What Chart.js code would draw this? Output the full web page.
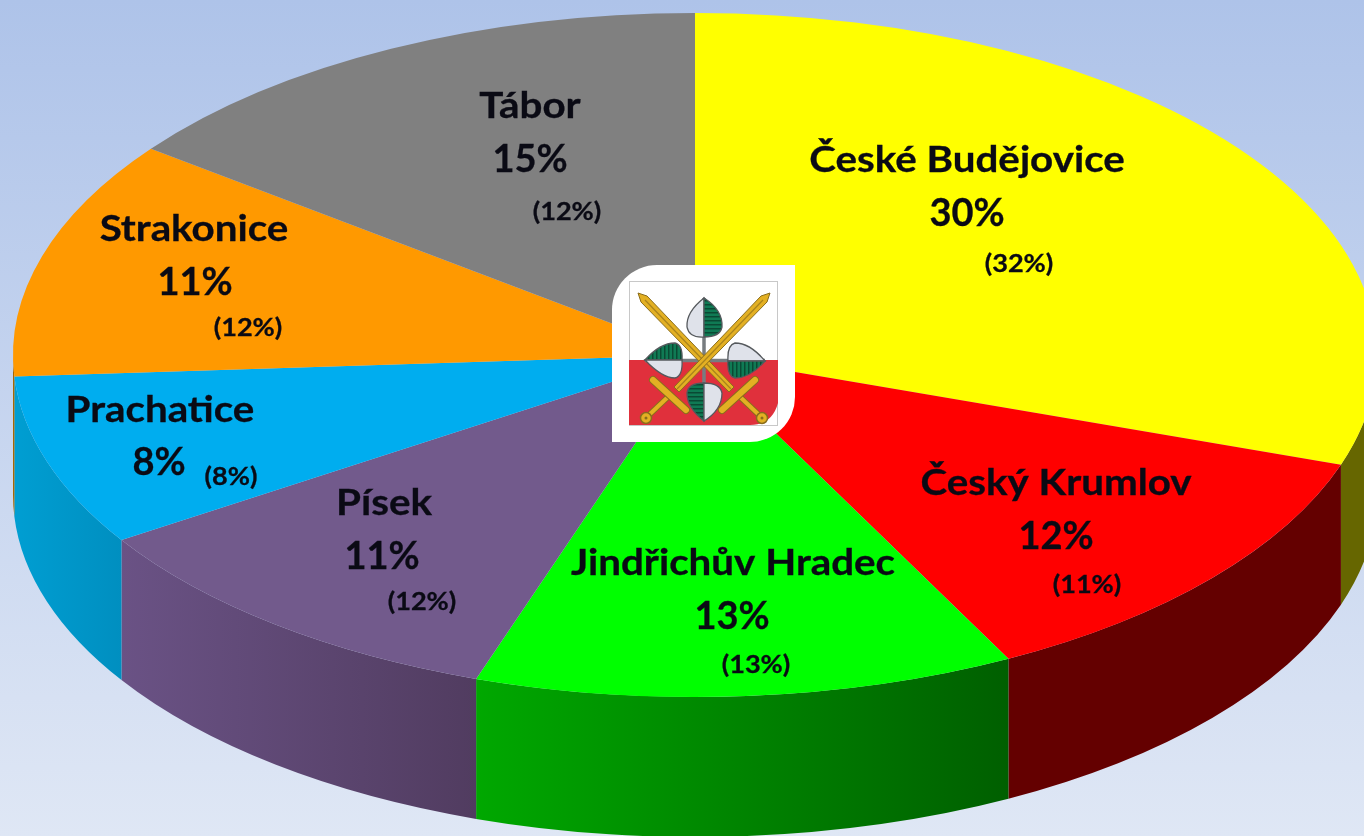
<!DOCTYPE html>
<html>
<head>
<meta charset="utf-8">
<title>Okresy</title>
<script src="https://cdn.jsdelivr.net/npm/chart.js@4"></script>
<style>
  html, body { margin: 0; padding: 0; width: 1364px; height: 836px; overflow: hidden; }
  body { background: linear-gradient(180deg, #aec3e9 0%, #dfe7f5 100%); position: relative; }
  #wrap { position: absolute; left: 0; top: 0; width: 1364px; height: 836px; }
  #emblem { position: absolute; left: 0; top: 0; filter: blur(0.5px); }
</style>
</head>
<body>
<div id="wrap"><canvas id="myChart" width="1364" height="836"></canvas></div>
<svg id="emblem" width="1364" height="836" viewBox="0 0 1364 836">
  <defs>
    <g id="sword">
      <!-- drawn from the top left tip to the bottom right pommel -->
      <path d="M638 293 L647 296 L734 387 L729 392 L641 302 Z" fill="#e3b023" stroke="#8a6d1c" stroke-width="1"/>
      <path d="M645 300 L731 389" stroke="#a9831c" stroke-width="1.200"/>
      <path d="M738 395 L758 414" stroke="#8a6d1c" stroke-width="6"/>
      <path d="M738 395 L758 414" stroke="#e3b023" stroke-width="4"/>
      <path d="M722 410 L755 380" stroke="#8a6d1c" stroke-width="8" stroke-linecap="round"/>
      <path d="M722 410 L755 380" stroke="#e3b023" stroke-width="6" stroke-linecap="round"/>
      <circle cx="762" cy="418" r="5.500" fill="#e3b023" stroke="#8a6d1c" stroke-width="1.500"/>
      <circle cx="762" cy="418" r="1.500" fill="#8a6d1c"/>
    </g>
    <pattern id="vein" width="4" height="4" patternUnits="userSpaceOnUse">
      <rect width="4" height="4" fill="#0f7a54"/>
      <rect y="0" width="4" height="1.500" fill="#0a4a34"/>
    </pattern>
    <pattern id="veinSide" width="4" height="4" patternUnits="userSpaceOnUse">
      <rect width="4" height="4" fill="#0f7a54"/>
      <rect x="0" width="1.500" height="4" fill="#0a4a34"/>
    </pattern>
  </defs>
  <path d="M657 265 H795 V397 A45 45 0 0 1 750 442 H612 V310 A45 45 0 0 1 657 265 Z" fill="#fff"/>
  <rect x="629.5" y="281.5" width="148" height="144" fill="#fff" stroke="#c8c8c8"/>
  <path d="M629 360 H778 V403 Q772 425 750 425 H629 Z" fill="#e0303c"/>
  <path d="M704 298 V421 M645 360.500 H765" stroke="#777c80" stroke-width="3.500" fill="none"/>
  <g stroke="#55595d" stroke-width="1.300">
    <path d="M704 298 Q686 312 687 327 Q689 338 704 337 Z" fill="#dfe2ea"/>
    <path d="M704 298 Q723 310 722 327 Q720 337 704 337 Z" fill="url(#vein)"/>
    <path d="M645 360 Q660 343 675 343 Q683 345 682 360 Z" fill="url(#veinSide)"/>
    <path d="M645 360 Q662 378 675 378 Q683 376 682 360 Z" fill="#dfe2ea"/>
    <path d="M765 361 Q750 343 735 343 Q727 345 728 361 Z" fill="#dfe2ea"/>
    <path d="M765 361 Q750 378 735 378 Q727 376 728 361 Z" fill="url(#veinSide)"/>
    <path d="M704 421 Q687 408 687 393 Q688 383 704 383 Z" fill="url(#vein)"/>
    <path d="M704 421 Q722 410 722 393 Q720 383 704 383 Z" fill="#dfe2ea"/>
  </g>
  <use href="#sword"/>
  <use href="#sword" transform="translate(1408 0) scale(-1 1)"/>
</svg>
<script>
// okres shares: slices, the printed share is the rounded one
var categories = ['České Budějovice', 'Český Krumlov', 'Jindřichův Hradec', 'Písek', 'Prachatice', 'Strakonice', 'Tábor'];
var shares = [30.2, 12.2, 12.8, 10.7, 8.1, 11.3, 14.7];
var previousShares = [32, 11, 13, 12, 8, 12, 12];

var topColors = ['#ffff00', '#ff0000', '#00ff00', '#725a8c', '#00adef', '#ff9900', '#808080'];
var sideColorsLeft = ['#666600', '#640000', '#00a800', '#6a5285', '#009ed2', '#a86800', '#555555'];
var sideColorsRight = ['#666600', '#640000', '#005f00', '#513c60', '#008fc0', '#a86800', '#555555'];

// where each text block sits: name, share, then the bracket label centre
var nameAnchors = [[967, 160], [1056, 483], [733, 563], [384, 503], [160, 410], [194, 229], [530, 106]];
var shareAnchors = [[967, 214], [1056, 537], [732, 617], [382, 557], [159, 463], [195, 283], [530, 160]];
var previousAnchors = [[1019, 264], [1087, 585], [756, 665], [422, 602], [231, 477], [248, 328], [567, 212]];

// the tilted disc
var discX = 695, discY = 355, discRx = 682, discRy = 342, discDepth = 140;

var tiltPlugin = {
  id: 'tilt',
  beforeDatasetsDraw: function(chart) {
    var ctx = chart.ctx;
    var arcs = chart.getDatasetMeta(0).data;
    // rim first, only the part of each slice facing the viewer
    arcs.forEach(function(arc, i) {
      var from = Math.max(arc.startAngle, 0);
      var to = Math.min(arc.endAngle, Math.PI);
      if (to <= from) return;
      var x1 = discX + discRx * Math.cos(from);
      var x2 = discX + discRx * Math.cos(to);
      var grad = ctx.createLinearGradient(x2, 0, x1, 0);
      grad.addColorStop(0, sideColorsLeft[i]);
      grad.addColorStop(1, sideColorsRight[i]);
      ctx.beginPath();
      ctx.ellipse(discX, discY, discRx, discRy, 0, from, to);
      ctx.ellipse(discX, discY + discDepth, discRx, discRy, 0, to, from, true);
      ctx.closePath();
      ctx.fillStyle = grad;
      ctx.fill();
    });
    // squash the round pie the library draws into the ellipse
    var arc0 = arcs[0];
    ctx.save();
    ctx.translate(discX, discY);
    ctx.scale(discRx / arc0.outerRadius, discRy / arc0.outerRadius);
    ctx.translate(-arc0.x, -arc0.y);
  },
  afterDatasetsDraw: function(chart) {
    chart.ctx.restore();
  }
};

// the reference text is a stretched screenshot, so names get a wider x scale
function stretchedText(ctx, text, at, font, stretch) {
  ctx.save();
  ctx.translate(at[0], at[1]);
  ctx.scale(stretch, 1);
  ctx.font = font;
  ctx.lineWidth = 0.3;
  ctx.strokeText(text, 0, 0);
  ctx.fillText(text, 0, 0);
  ctx.restore();
}

var textPlugin = {
  id: 'sliceText',
  afterDraw: function(chart) {
    var ctx = chart.ctx;
    ctx.save();
    ctx.fillStyle = '#0a0a14';
    ctx.strokeStyle = '#0a0a14';
    ctx.textAlign = 'center';
    ctx.textBaseline = 'middle';
    categories.forEach(function(name, i) {
      stretchedText(ctx, name, nameAnchors[i], 'bold 36px Lato', 1.12);
      stretchedText(ctx, Math.round(shares[i]) + '%', shareAnchors[i], 'bold 38px Lato', 1);
      stretchedText(ctx, '(' + previousShares[i] + '%)', previousAnchors[i], 'bold 24px Lato', 1.13);
    });
    ctx.restore();
  }
};

var ctx = document.getElementById('myChart');
var myChart = new Chart(ctx, {
  type: 'pie',
  data: {
    labels: categories,
    datasets: [{
      data: shares,
      backgroundColor: topColors,
      borderWidth: 0,
      clip: false
    }]
  },
  options: {
    responsive: false,
    animation: false,
    layout: { padding: 0 },
    plugins: { legend: { display: false }, tooltip: { enabled: false } }
  },
  plugins: [tiltPlugin, textPlugin]
});
</script>
</body>
</html>
